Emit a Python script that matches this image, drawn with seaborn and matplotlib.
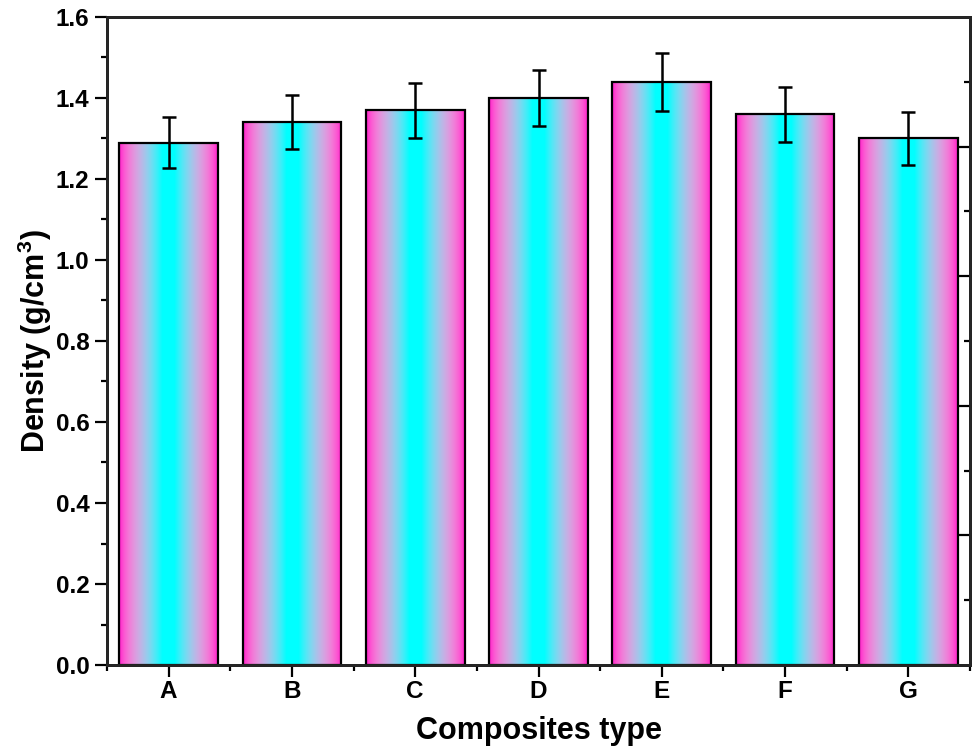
import numpy as np
import pandas as pd
import matplotlib
matplotlib.use("Agg")
import matplotlib.pyplot as plt
from matplotlib.ticker import MultipleLocator, FixedLocator, NullFormatter
import seaborn as sns

# Composite density measurements
categories = ["A", "B", "C", "D", "E", "F", "G"]
density = [1.29, 1.34, 1.37, 1.40, 1.44, 1.36, 1.30]
density_err = [0.064, 0.067, 0.068, 0.070, 0.072, 0.068, 0.065]

sns.set_style("ticks")
plt.rcParams["font.family"] = ["Liberation Sans", "DejaVu Sans"]
plt.rcParams["font.weight"] = "bold"
plt.rcParams["text.color"] = "black"
plt.rcParams["axes.labelcolor"] = "black"
plt.rcParams["xtick.color"] = "black"
plt.rcParams["ytick.color"] = "black"
plt.rcParams["mathtext.fontset"] = "custom"
plt.rcParams["mathtext.rm"] = "Liberation Sans:bold"
plt.rcParams["mathtext.bf"] = "Liberation Sans:bold"
plt.rcParams["mathtext.it"] = "Liberation Sans:bold"

df = pd.DataFrame({"Composite": categories, "Density": density})

fig = plt.figure(figsize=(9.76, 7.51), dpi=100)
ax = fig.add_axes([0.1096, 0.1145, 0.8843, 0.8629])

sns.barplot(data=df, x="Composite", y="Density", order=categories,
            width=0.8, edgecolor="black", linewidth=1.6, ax=ax,
            errorbar=None, color="white")

# Horizontal magenta-cyan-magenta gradient painted inside each bar
n = 300
u = np.linspace(-1, 1, n)
s = np.clip((1 - np.abs(u)) / 0.88, 0, 1)   # 0 at bar edge, 1 near the centre
red = 1.0 - s ** 2
green = np.sqrt(s)
blue = 0.80 + 0.20 * s
grad = np.stack([red, green, blue], axis=1)
grad_img = np.clip(grad, 0, 1)[None, :, :]

centers = []
for patch in ax.patches:
    x0, y0 = patch.get_x(), patch.get_y()
    w, h = patch.get_width(), patch.get_height()
    centers.append(x0 + w / 2)
    im = ax.imshow(grad_img, extent=(x0, x0 + w, y0, y0 + h),
                   aspect="auto", interpolation="bilinear", zorder=1.5)
    im.set_clip_path(patch)
    patch.set_facecolor("none")
    patch.set_zorder(2)

ax.errorbar(centers, density, yerr=density_err, fmt="none", ecolor="black",
            elinewidth=1.8, capsize=4.8, capthick=1.8, zorder=3)

ax.set_xlim(-0.5, len(categories) - 0.5)
ax.set_ylim(0, 1.6)
ax.yaxis.set_minor_locator(MultipleLocator(0.1))
ax.xaxis.set_minor_locator(FixedLocator(np.arange(-0.5, len(categories), 1.0)))
yt = np.arange(0, 1.61, 0.2)
ax.set_yticks(yt)
ax.set_yticklabels([f"{v:.1f}" for v in yt])

for side in ["left", "bottom", "right", "top"]:
    ax.spines[side].set_linewidth(2.0)
    ax.spines[side].set_color("black")
    ax.spines[side].set_visible(True)

ax.tick_params(axis="both", which="major", direction="out", length=8.5,
               width=1.6, labelsize=17.5, pad=4, colors="black")
ax.tick_params(axis="x", which="major", pad=2)
ax.tick_params(axis="both", which="minor", direction="out", length=4.3,
               width=1.6)
ax.tick_params(top=False, right=False, which="both")
for lbl in ax.get_xticklabels() + ax.get_yticklabels():
    lbl.set_fontweight("bold")

# Right-hand axis carries inward ticks only
ax2 = ax.twinx()
ax2.set_ylim(0, 1.6)
ax2.yaxis.set_major_locator(FixedLocator([0.32, 0.64, 0.96, 1.28]))
ax2.yaxis.set_minor_locator(FixedLocator([0.16, 0.48, 0.80, 1.12, 1.44]))
ax2.yaxis.set_major_formatter(NullFormatter())
ax2.tick_params(axis="y", which="major", direction="in", length=8, width=1.6)
ax2.tick_params(axis="y", which="minor", direction="in", length=4.3, width=1.6)
for side in ["left", "bottom", "right", "top"]:
    ax2.spines[side].set_linewidth(2.0)

ax.set_xlabel("Composites type", fontsize=22, fontweight="bold", labelpad=10)
ax.set_ylabel(r"Density (g/cm$^{3}$)", fontsize=22, fontweight="bold", labelpad=1)

fig.savefig("out.png", dpi=100)
